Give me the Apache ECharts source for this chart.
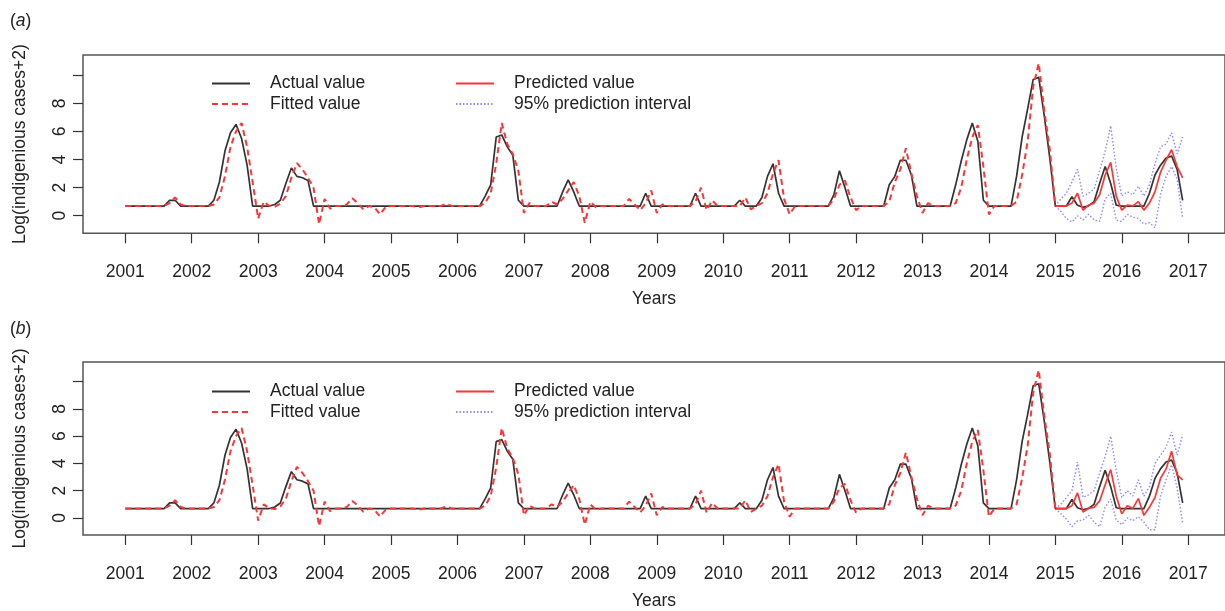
<!DOCTYPE html>
<html>
<head>
<meta charset="utf-8">
<script src="https://cdn.jsdelivr.net/npm/echarts@6/dist/echarts.min.js"></script>
<style>
  html, body { margin: 0; padding: 0; background: #fff; }
  #chart { width: 1225px; height: 611px; }
</style>
</head>
<body>
<div id="chart"></div>
<script>
// Monthly observations, Jan 2001 .. Dec 2016 (log(indigenous cases + 2))
const actual = [
  // 2001
  0.69,0.69,0.69,0.69,0.69,0.69,0.69,0.69,1.1,1.1,0.69,0.69,
  // 2002
  0.69,0.69,0.69,0.69,1.1,2.4,4.6,5.9,6.5,5.5,3.6,0.69,
  // 2003
  0.69,0.69,0.69,0.8,1.1,2.3,3.4,2.8,2.7,2.5,0.69,0.69,
  // 2004
  0.69,0.69,0.69,0.69,0.69,0.69,0.69,0.69,0.69,0.69,0.69,0.69,
  // 2005
  0.69,0.69,0.69,0.69,0.69,0.69,0.69,0.69,0.69,0.69,0.69,0.69,
  // 2006
  0.69,0.69,0.69,0.69,0.69,1.4,2.2,5.6,5.75,4.9,4.3,1.1,
  // 2007
  0.69,0.69,0.69,0.69,0.69,0.69,0.69,1.7,2.55,1.7,0.69,0.69,
  // 2008
  0.69,0.69,0.69,0.69,0.69,0.69,0.69,0.69,0.69,0.69,1.6,0.69,
  // 2009
  0.69,0.69,0.69,0.69,0.69,0.69,0.69,1.6,0.69,0.69,0.69,0.69,
  // 2010
  0.69,0.69,0.69,1.1,0.69,0.69,0.69,1.3,2.8,3.7,1.6,0.69,
  // 2011
  0.69,0.69,0.69,0.69,0.69,0.69,0.69,0.69,1.5,3.2,2.0,0.69,
  // 2012
  0.69,0.69,0.69,0.69,0.69,0.69,2.2,2.8,3.95,3.95,2.9,0.69,
  // 2013
  0.69,0.69,0.69,0.69,0.69,0.69,2.2,3.9,5.4,6.6,5.3,1.1,
  // 2014
  0.69,0.69,0.69,0.69,0.69,2.8,5.6,7.6,9.7,9.85,7.1,4.1,
  // 2015
  0.69,0.69,0.69,1.35,0.75,0.6,0.7,1.0,2.3,3.5,2.3,0.75,
  // 2016
  0.69,0.69,0.69,0.69,0.69,1.6,2.9,3.6,4.1,4.25,3.3,1.1
];

// In-sample fitted values, Jan 2001 .. Jan 2015
const fitted = [
  0.69,0.69,0.69,0.69,0.69,0.69,0.69,0.69,0.9,1.3,0.8,0.69,
  0.69,0.69,0.69,0.69,0.8,1.3,2.8,4.9,6.0,6.6,4.9,2.4,
  -0.2,1.0,0.7,0.65,0.85,1.4,2.7,3.75,3.3,2.7,2.0,-0.6,
  1.2,0.5,0.69,0.7,0.8,1.25,0.9,0.45,0.69,0.6,0.1,0.6,
  0.69,0.69,0.69,0.69,0.69,0.6,0.69,0.69,0.69,0.69,0.85,0.69,
  0.69,0.69,0.69,0.69,0.69,0.9,1.6,3.7,6.6,5.1,4.4,3.2,
  0.2,0.9,0.69,0.69,0.69,1.0,0.8,1.2,1.8,2.4,1.4,-0.5,
  1.0,0.6,0.69,0.69,0.69,0.69,0.69,1.2,0.8,0.4,0.9,1.8,
  0.2,0.8,0.69,0.69,0.69,0.69,0.69,1.0,2.0,0.4,1.1,0.69,
  0.69,0.69,0.69,0.69,1.3,0.45,0.69,0.9,1.6,3.0,3.95,1.2,
  0.1,0.69,0.69,0.69,0.69,0.69,0.69,0.69,1.2,2.2,2.5,1.3,
  0.4,0.69,0.69,0.69,0.69,0.69,1.0,2.4,3.3,4.8,3.0,1.4,
  0.2,0.9,0.69,0.69,0.69,0.69,0.9,2.0,4.0,5.6,6.45,3.5,
  0.1,0.69,0.69,0.69,0.69,1.0,2.9,5.3,9.2,10.85,7.5,4.7,
  0.69
];

// Forecast period Jan 2015 .. Dec 2016 starts at this month index
const forecastStart = 168;

// Panel (a) forecasts
const predictedA = [0.69,0.69,0.69,0.9,1.6,0.4,0.75,0.9,1.5,2.9,3.8,1.4,
                    0.4,0.75,0.7,1.0,0.4,0.9,1.7,3.1,3.95,4.7,3.5,2.7];
const upperA     = [0.69,1.2,1.6,2.4,3.3,1.4,1.6,1.9,3.2,4.6,6.4,3.4,
                    1.4,1.7,1.5,2.1,1.4,2.2,3.7,4.9,5.1,5.9,4.4,5.6];
const lowerA     = [0.69,0.3,-0.2,-0.45,0.0,-0.3,0.1,-0.3,-0.4,1.2,1.6,-0.3,
                    -0.4,0.1,-0.1,-0.2,-0.6,-0.5,-0.85,1.5,2.8,3.5,2.6,-0.2];

// Panel (b) forecasts
const predictedB = [0.71,0.69,0.69,0.9,1.84,0.43,0.71,0.78,1.25,2.44,3.55,1.6,
                    0.3,0.9,0.7,1.42,0.19,0.78,1.5,2.9,3.6,4.9,3.15,2.8];
const upperB     = [0.69,1.0,1.5,2.0,4.1,1.5,1.7,2.0,3.3,4.5,6.0,3.5,
                    1.5,2.0,1.6,2.8,1.6,2.3,4.0,4.6,5.2,6.3,4.6,6.1];
const lowerB     = [0.69,0.3,-0.1,-0.64,-0.2,-0.16,0.2,-0.3,-0.64,0.8,1.4,-0.16,
                    -0.5,0.0,-0.2,0.1,-0.3,-0.87,-0.87,1.6,2.8,3.9,2.2,-0.4];

const yearTicks = [2001,2002,2003,2004,2005,2006,2007,2008,2009,2010,2011,2012,2013,2014,2015,2016,2017];
const yTicks = [0,2,4,6,8,10];
const yLabels = [0,2,4,6,8];

const startYear = 2001;
function toPoints(arr, offset) {
  return arr.map((v, i) => [startYear + (i + offset) / 12, v]);
}

const FONT = 'Liberation Sans, Arial, Helvetica, sans-serif';
const FS = 17.5;
const BLACK = '#333333';
const RED = '#ff3535';
const BLUE = '#8a8aff';

function xAxisFor(idx) {
  return {
    type: 'value', gridIndex: idx, min: 2000.363, max: 2017.554,
    axisLine: { show: false, onZero: false },
    splitLine: { show: false },
    axisTick: { show: true, customValues: yearTicks, length: 10, lineStyle: { color: '#333', width: 1.2 } },
    axisLabel: { customValues: yearTicks, margin: 30, fontSize: FS, color: '#222', fontFamily: FONT,
                 formatter: v => String(Math.round(v)) },
    name: 'Years', nameLocation: 'middle', nameGap: 57,
    nameTextStyle: { fontSize: FS, color: '#222', fontFamily: FONT }
  };
}
function yAxisFor(idx) {
  return {
    type: 'value', gridIndex: idx, min: -1.25, max: 11.44,
    axisLine: { show: false, onZero: false },
    splitLine: { show: false },
    axisTick: { show: true, customValues: yTicks, length: 10, lineStyle: { color: '#333', width: 1.2 } },
    axisLabel: { customValues: yLabels, rotate: 90, margin: 14, fontSize: FS, color: '#222', fontFamily: FONT },
    name: 'Log(indigenious cases+2)', nameLocation: 'middle', nameGap: 54, nameRotate: 90,
    nameTextStyle: { fontSize: FS, color: '#222', fontFamily: FONT }
  };
}
function lineSeries(name, data, idx, color, width, type, z) {
  return {
    name, type: 'line', xAxisIndex: idx, yAxisIndex: idx, data,
    symbol: 'none', showSymbol: false, z,
    color, itemStyle: { color },
    lineStyle: { color, width, type }
  };
}
function legendsFor(top) {
  const common = {
    orient: 'vertical', top, itemWidth: 38, itemHeight: 14, itemGap: 2.5,
    itemStyle: { opacity: 0 },
    textStyle: { fontSize: FS, color: '#222', fontFamily: FONT, padding: [0, 0, 0, 15] }
  };
  return [
    Object.assign({}, common, { left: 206, data: ['Actual value', 'Fitted value'] }),
    Object.assign({}, common, { left: 450, data: ['Predicted value', '95% prediction interval'] })
  ];
}

const series = [];
[[predictedA, upperA, lowerA], [predictedB, upperB, lowerB]].forEach((p, idx) => {
  series.push(lineSeries('Actual value', toPoints(actual, 0), idx, BLACK, 1.7, 'solid', 3));
  series.push(lineSeries('Fitted value', toPoints(fitted, 0), idx, RED, 2, [6, 4], 4));
  series.push(lineSeries('Predicted value', toPoints(p[0], forecastStart), idx, RED, 1.7, 'solid', 5));
  series.push(lineSeries('95% prediction interval', toPoints(p[1], forecastStart), idx, BLUE, 1.4, [1.5, 2], 2));
  series.push(lineSeries('95% prediction interval', toPoints(p[2], forecastStart), idx, BLUE, 1.4, [1.5, 2], 2));
});

const titleRich = {
  n: { fontSize: FS, fontFamily: FONT, color: '#222', fontWeight: 'normal' },
  i: { fontSize: FS, fontFamily: FONT, color: '#222', fontStyle: 'italic', fontWeight: 'normal' }
};

const option = {
  animation: false,
  backgroundColor: '#ffffff',
  title: [
    { text: '{n|(}{i|a}{n|)}', left: 10, top: 12, padding: 0, textStyle: { rich: titleRich, fontWeight: 'normal' } },
    { text: '{n|(}{i|b}{n|)}', left: 10, top: 320, padding: 0, textStyle: { rich: titleRich, fontWeight: 'normal' } }
  ],
  grid: [
    { left: 83, top: 55, height: 178.3, width: 1144, show: true, borderColor: '#555', borderWidth: 1.5, backgroundColor: 'transparent' },
    { left: 83, top: 362, height: 178.3, width: 1144, show: true, borderColor: '#555', borderWidth: 1.5, backgroundColor: 'transparent' }
  ],
  legend: legendsFor(69.5).concat(legendsFor(377.5)),
  xAxis: [xAxisFor(0), xAxisFor(1)],
  yAxis: [yAxisFor(0), yAxisFor(1)],
  series
};

const chart = echarts.init(document.getElementById('chart'), null, { renderer: 'canvas' });
chart.setOption(option);
</script>
</body>
</html>
